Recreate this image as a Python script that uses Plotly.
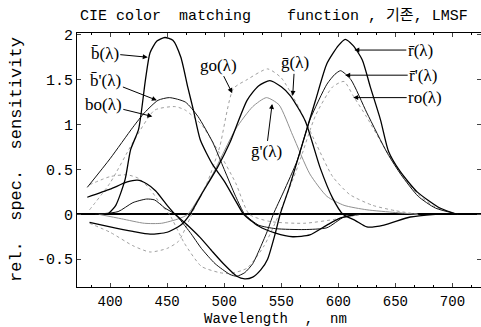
import plotly.graph_objects as go

# ---- data ----
b_bar_wl = [398, 405, 413, 418, 425, 431, 435, 441, 448, 455, 462, 468, 473, 479, 490, 500, 510, 517, 530, 545, 560, 575, 590, 602, 615]
b_bar = [0.0, 0.1, 0.38, 0.72, 0.95, 1.5, 1.8, 1.93, 1.97, 1.94, 1.75, 1.42, 1.16, 0.83, 0.55, 0.37, 0.15, 0.0, -0.13, -0.21, -0.25, -0.23, -0.12, -0.04, 0.0]

b_pr_wl = [380, 400, 420, 430, 442, 452, 466, 477, 490, 500, 510, 518, 530, 545, 570, 590, 605, 620]
b_pr = [0.3, 0.62, 0.97, 1.13, 1.27, 1.3, 1.25, 1.09, 0.8, 0.5, 0.2, 0.0, -0.12, -0.16, -0.17, -0.15, -0.03, 0.0]

bo_wl = [382, 400, 420, 439, 457, 466, 480, 495, 510, 522, 540, 570, 600, 620]
bo = [0.05, 0.35, 0.8, 1.16, 1.2, 1.16, 1.0, 0.7, 0.35, 0.0, -0.08, -0.1, -0.05, 0.0]

g_bar_wl = [382, 400, 420, 435, 450, 462, 470, 480, 494, 505, 520, 530, 540, 550, 558, 571, 584, 595, 604, 615, 625, 640, 663, 685]
g_bar = [-0.09, -0.14, -0.19, -0.22, -0.2, -0.12, 0.0, 0.22, 0.52, 0.8, 1.27, 1.43, 1.49, 1.42, 1.32, 1.04, 0.52, 0.18, 0.0, -0.07, -0.14, -0.12, -0.03, 0.0]

g_pr_wl = [390, 410, 430, 445, 460, 468, 490, 510, 525, 537, 548, 560, 575, 590, 605, 625, 650, 670]
g_pr = [0.0, -0.05, -0.1, -0.1, -0.05, 0.0, 0.45, 0.95, 1.2, 1.3, 1.22, 0.88, 0.45, 0.2, 0.1, 0.05, 0.02, 0.0]

go_wl = [382, 400, 420, 435, 450, 460, 468, 475, 485, 496, 508, 520, 538, 550, 565, 580, 595, 610, 630, 650, 670]
go_v = [-0.1, -0.2, -0.35, -0.42, -0.38, -0.3, -0.1, 0.1, 0.35, 0.75, 1.4, 1.5, 1.62, 1.52, 1.2, 0.8, 0.42, 0.22, 0.1, 0.04, 0.0]

r_bar_wl = [380, 400, 415, 424, 432, 440, 450, 457, 466, 479, 490, 500, 511, 518, 525, 532, 538, 545, 549, 557, 567, 580, 590, 600, 606, 613, 621, 628, 637, 644, 654, 669, 689, 704]
r_bar = [0.19, 0.28, 0.36, 0.38, 0.34, 0.26, 0.1, 0.0, -0.1, -0.26, -0.42, -0.56, -0.69, -0.72, -0.7, -0.62, -0.5, -0.2, 0.0, 0.3, 0.72, 1.27, 1.68, 1.88, 1.95, 1.88, 1.72, 1.42, 1.05, 0.7, 0.48, 0.25, 0.07, 0.0]

r_pr_wl = [387, 407, 420, 432, 439, 448, 457, 470, 480, 492, 505, 511, 518, 525, 532, 538, 543, 552, 564, 575, 590, 597, 602, 611, 625, 643, 655, 670, 685, 705]
r_pr = [0.0, 0.03, 0.13, 0.17, 0.16, 0.07, 0.0, -0.2, -0.38, -0.55, -0.67, -0.69, -0.65, -0.55, -0.36, -0.18, 0.0, 0.25, 0.6, 1.05, 1.45, 1.56, 1.6, 1.5, 1.13, 0.68, 0.44, 0.2, 0.07, 0.0]

ro_wl = [382, 400, 415, 425, 435, 445, 452, 465, 480, 496, 505, 520, 535, 548, 565, 580, 595, 605, 613, 625, 640, 655, 670, 685, 700]
ro_v = [0.33, 0.42, 0.44, 0.4, 0.28, 0.1, 0.0, -0.32, -0.58, -0.65, -0.66, -0.6, -0.35, 0.0, 0.55, 1.1, 1.42, 1.48, 1.32, 1.08, 0.75, 0.45, 0.22, 0.08, 0.02]

x_ticks = [400, 450, 500, 550, 600, 650, 700]
y_ticks = [-0.5, 0, 0.5, 1, 1.5, 2]
y_ticktext = ["-0.5", "0", "0.5", "1", "1.5", "2"]

MONO = "Liberation Mono, Noto Sans CJK KR, monospace"
SERIF = "Liberation Serif, DejaVu Serif, serif"

fig = go.Figure()

def add(xs, ys, color, width, dash="solid"):
    fig.add_trace(go.Scatter(x=xs, y=ys, mode="lines", line=dict(color=color, width=width, dash=dash, shape="spline", smoothing=0.6), hoverinfo="skip"))

add(bo_wl, bo, "#a0a0a0", 1.0, "dot")
add(go_wl, go_v, "#a0a0a0", 1.0, "dot")
add(ro_wl, ro_v, "#a0a0a0", 1.0, "dot")
add(g_pr_wl, g_pr, "#909090", 1.0)
add(b_pr_wl, b_pr, "#111111", 1.0)
add(r_pr_wl, r_pr, "#111111", 1.0)
add(b_bar_wl, b_bar, "#000000", 1.3)
add(g_bar_wl, g_bar, "#000000", 1.3)
add(r_bar_wl, r_bar, "#000000", 1.3)

labels = [
    # text, head wl, head value, ax, ay
    ("b\u0304(\u03bb)", 433, 1.75, -43, -4),
    ("b\u0304'(\u03bb)", 441, 1.27, -51, -20),
    ("bo(\u03bb)", 437, 1.09, -49, -12),
    ("go(\u03bb)", 507, 1.35, -14, -28),
    ("g\u0304(\u03bb)", 560, 1.32, 2, -33),
    ("g\u0304'(\u03bb)", 542, 1.23, -6, 48),
    ("r\u0304(\u03bb)", 614, 1.83, 66, 0),
    ("r\u0304'(\u03bb)", 606, 1.55, 78, 0),
    ("ro(\u03bb)", 613, 1.30, 72, 0),
]
for t, lx, ly, ax, ay in labels:
    fig.add_annotation(x=lx, y=ly, text=t, showarrow=True, ax=ax, ay=ay,
                       arrowhead=2, arrowsize=1, arrowwidth=1, arrowcolor="black",
                       standoff=0, font=dict(family=SERIF, size=17, color="black"))

fig.add_annotation(text="rel.  spec.  sensitivity", xref="paper", yref="paper",
                   x=(16 - 77) / 404, y=0.5, xanchor="center", yanchor="middle",
                   textangle=-90, showarrow=False,
                   font=dict(family=MONO, size=17, color="black"))
fig.add_annotation(text="Wavelength  ,  nm", xref="paper", yref="paper",
                   x=(275 - 77) / 404, y=-(319 - 287) / 254, showarrow=False,
                   xanchor="center", yanchor="middle", borderpad=0,
                   font=dict(family=MONO, size=14, color="black"))

fig.update_layout(
    width=481, height=327,
    margin=dict(l=77, r=0, t=33, b=40),
    paper_bgcolor="white", plot_bgcolor="white",
    showlegend=False,
    title=dict(text="CIE color  matching    function , \uae30\uc874, LMSF",
               x=80 / 481, xref="container", xanchor="left",
               y=1 - 15 / 327, yref="container", yanchor="middle",
               font=dict(family=MONO, size=15, color="black")),
)
fig.update_xaxes(range=[371, 725], tickvals=x_ticks, ticks="inside", ticklen=4,
                 showline=True, linecolor="black", linewidth=1, mirror="ticks",
                 showgrid=False, zeroline=False, ticklabelstandoff=1,
                 tickfont=dict(family=MONO, size=14, color="black"),
                 minor=dict(ticks="inside", ticklen=2, dtick=50 / 3, tick0=400, tickcolor="black"))
fig.update_yaxes(range=[-0.81, 2.02], tickvals=y_ticks, ticktext=y_ticktext,
                 ticks="inside", ticklen=4,
                 showline=True, linecolor="black", linewidth=1, mirror="ticks",
                 showgrid=False, zeroline=True, zerolinecolor="black", zerolinewidth=2,
                 tickfont=dict(family=MONO, size=15, color="black"))

fig.write_html("out.html", config={"displayModeBar": False},
               post_script="document.body.style.margin='0';document.body.style.padding='0';")
